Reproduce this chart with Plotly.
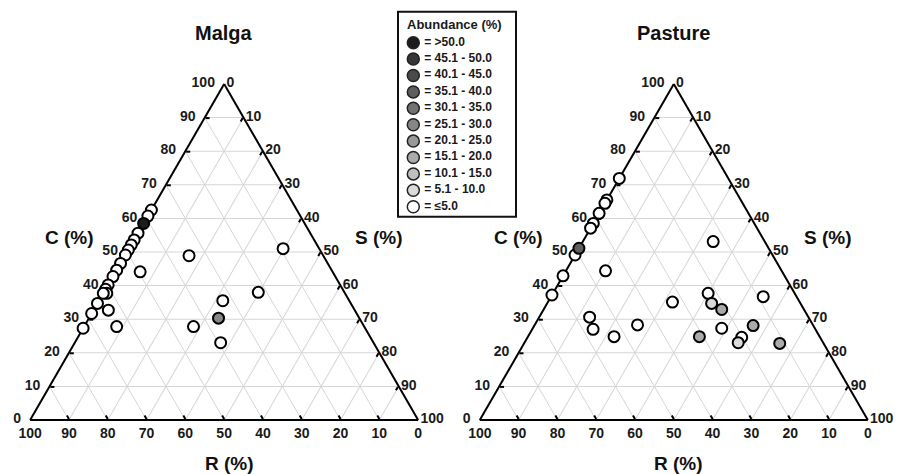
import plotly.graph_objects as go

# ---------------- data ----------------
classes = [">50.0", "45.1 - 50.0", "40.1 - 45.0", "35.1 - 40.0", "30.1 - 35.0",
           "25.1 - 30.0", "20.1 - 25.0", "15.1 - 20.0", "10.1 - 15.0",
           "5.1 - 10.0", "≤5.0"]
class_colors = ["#1c1c1c", "#363636", "#4a4a4a", "#5e5e5e", "#727272",
                "#868686", "#999999", "#ababab", "#bfbfbf", "#dadada", "#ffffff"]

# Malga: C (%), R (%), S (%), abundance class index
malga_C = [62.5, 60.7, 55.6, 53.6, 52.1, 50.6, 49.1, 46.6, 44.6, 42.7, 40.2, 38.9,
           37.7, 37.7, 34.7, 31.7, 27.3, 44.1, 32.7, 27.8, 48.9, 51.0, 38.0, 35.5,
           27.8, 23.0, 58.5, 30.3]
malga_R = [37.5, 39.3, 44.4, 46.4, 47.9, 49.4, 50.9, 53.4, 55.4, 57.3, 59.8, 61.1,
           61.4, 62.3, 65.3, 68.3, 72.7, 49.6, 63.5, 63.8, 34.6, 9.3, 22.2, 32.6,
           44.0, 39.4, 41.5, 36.3]
malga_S = [0.0, 0.0, 0.0, 0.0, 0.0, 0.0, 0.0, 0.0, 0.0, 0.0, 0.0, 0.0,
           0.9, 0.0, 0.0, 0.0, 0.0, 6.3, 3.8, 8.4, 16.5, 39.7, 39.8, 31.9,
           28.2, 37.6, 0.0, 33.4]
malga_cls = [10, 10, 10, 10, 10, 10, 10, 10, 10, 10, 10, 10,
             10, 10, 10, 10, 10, 10, 10, 10, 10, 10, 10, 10,
             10, 10, 0, 5]

# Pasture
pasture_C = [71.9, 65.5, 64.5, 61.5, 58.5, 57.1, 49.1, 42.9, 37.2, 44.4, 30.6, 27.0,
             24.8, 28.3, 35.1, 53.1, 37.7, 36.7, 27.3, 24.6, 51.1, 34.7, 23.0, 32.9,
             28.1, 24.8, 22.8]
pasture_R = [28.1, 34.5, 35.5, 38.5, 41.5, 42.9, 50.9, 57.1, 62.8, 45.4, 56.4, 57.3,
             53.0, 45.2, 32.8, 13.3, 22.3, 8.6, 24.0, 20.2, 48.9, 22.9, 21.9, 21.2,
             15.5, 31.0, 11.3]
pasture_S = [0.0, 0.0, 0.0, 0.0, 0.0, 0.0, 0.0, 0.0, 0.0, 10.2, 13.0, 15.7,
             22.2, 26.5, 32.1, 33.6, 40.0, 54.7, 48.7, 55.2, 0.0, 42.4, 55.1, 45.9,
             56.4, 44.2, 65.9]
pasture_cls = [10, 10, 10, 10, 10, 10, 10, 10, 10, 10, 10, 10,
               10, 10, 10, 10, 10, 10, 10, 10, 3, 9, 9, 7,
               7, 7, 7]

panel_titles = ["Malga", "Pasture"]
axis_names = ["C (%)", "S (%)", "R (%)"]

# ---------------- figure ----------------
W, H = 906, 474
OFF = 8  # page body margin
FONT = "Liberation Sans"


def fx(px):
    return (px - OFF) / W


def fy(py):
    return 1 - (py - OFF) / H


fig = go.Figure()

panels = [("ternary", malga_C, malga_R, malga_S, malga_cls),
          ("ternary2", pasture_C, pasture_R, pasture_S, pasture_cls)]
for sub, C, R, S, K in panels:
    for k in sorted(set(K), reverse=True):
        idx = [i for i, v in enumerate(K) if v == k]
        fig.add_trace(go.Scatterternary(
            a=[C[i] for i in idx], b=[R[i] for i in idx], c=[S[i] for i in idx],
            mode="markers", subplot=sub, cliponaxis=False, showlegend=False,
            marker=dict(size=11, color=class_colors[k],
                        line=dict(color="black", width=2)),
            hovertemplate="C %{a}<br>R %{b}<br>S %{c}<extra>" + classes[k] + "</extra>",
        ))

# legend drawn as a small scatter panel
fig.add_trace(go.Scatter(
    x=[0] * len(classes), y=list(range(len(classes))),
    mode="markers+text", text=["\u2009= " + c for c in classes],
    textposition="middle right",
    textfont=dict(family=FONT, size=12, color="#1a1a1a", weight="bold"),
    marker=dict(size=12, color=class_colors, line=dict(color="#222222", width=1.5)),
    xaxis="x", yaxis="y", showlegend=False, hoverinfo="skip", cliponaxis=False,
))


def tern_axis(suffix=""):
    return dict(min=0, tick0=0, dtick=10, ticks="inside", ticklen=4, tickwidth=1.5,
                tickcolor="black", linecolor="black", linewidth=2,
                showgrid=True, gridcolor="#d6d6d6", gridwidth=1, ticksuffix=suffix,
                tickfont=dict(family=FONT, size=14, color="#1a1a1a", weight="bold"),
                title=dict(text=""), layer="below traces")


def tern(xd):
    return dict(domain=dict(x=[fx(xd[0]), fx(xd[1])], y=[fy(420), fy(84)]),
                sum=100, bgcolor="white",
                aaxis=tern_axis("\u2002"), baxis=tern_axis(), caxis=tern_axis())


fig.update_layout(
    width=W, height=H, margin=dict(l=0, r=0, t=0, b=0),
    paper_bgcolor="white", plot_bgcolor="white",
    ternary=tern((30, 418.3)), ternary2=tern((479.3, 868.3)),
    xaxis=dict(domain=[fx(398), fx(516)], range=[-15.3, 102.7], visible=False, fixedrange=True),
    yaxis=dict(domain=[fy(216.7), fy(11.7)], range=[10.61, -1.89], visible=False, fixedrange=True),
    showlegend=False,
)

# legend frame and title
fig.add_shape(type="rect", xref="paper", yref="paper",
              x0=fx(398), x1=fx(516), y0=fy(216.7), y1=fy(11.7),
              line=dict(color="#111111", width=2), fillcolor="rgba(0,0,0,0)")
fig.add_annotation(x=fx(405), y=fy(24), xref="paper", yref="paper",
                   text="Abundance (%)", showarrow=False, xanchor="left", yanchor="middle",
                   font=dict(family=FONT, size=13, color="#1a1a1a", weight="bold"))

# panel titles and axis names
offsets = [0, 449.3]
for p, dx in enumerate(offsets):
    fig.add_annotation(x=fx(224 + dx), y=fy(33), xref="paper", yref="paper",
                       text=panel_titles[p], showarrow=False,
                       xanchor="center", yanchor="middle",
                       font=dict(family=FONT, size=20, color="#111111", weight="bold"))
    for name, (px, py) in zip(axis_names, [(69.5, 237), (378.5, 237), (229, 463)]):
        fig.add_annotation(x=fx(px + dx), y=fy(py), xref="paper", yref="paper",
                           text=name, showarrow=False,
                           xanchor="center", yanchor="middle",
                           font=dict(family=FONT, size=19, color="#111111", weight="bold"))

fig.write_html("out.html")
